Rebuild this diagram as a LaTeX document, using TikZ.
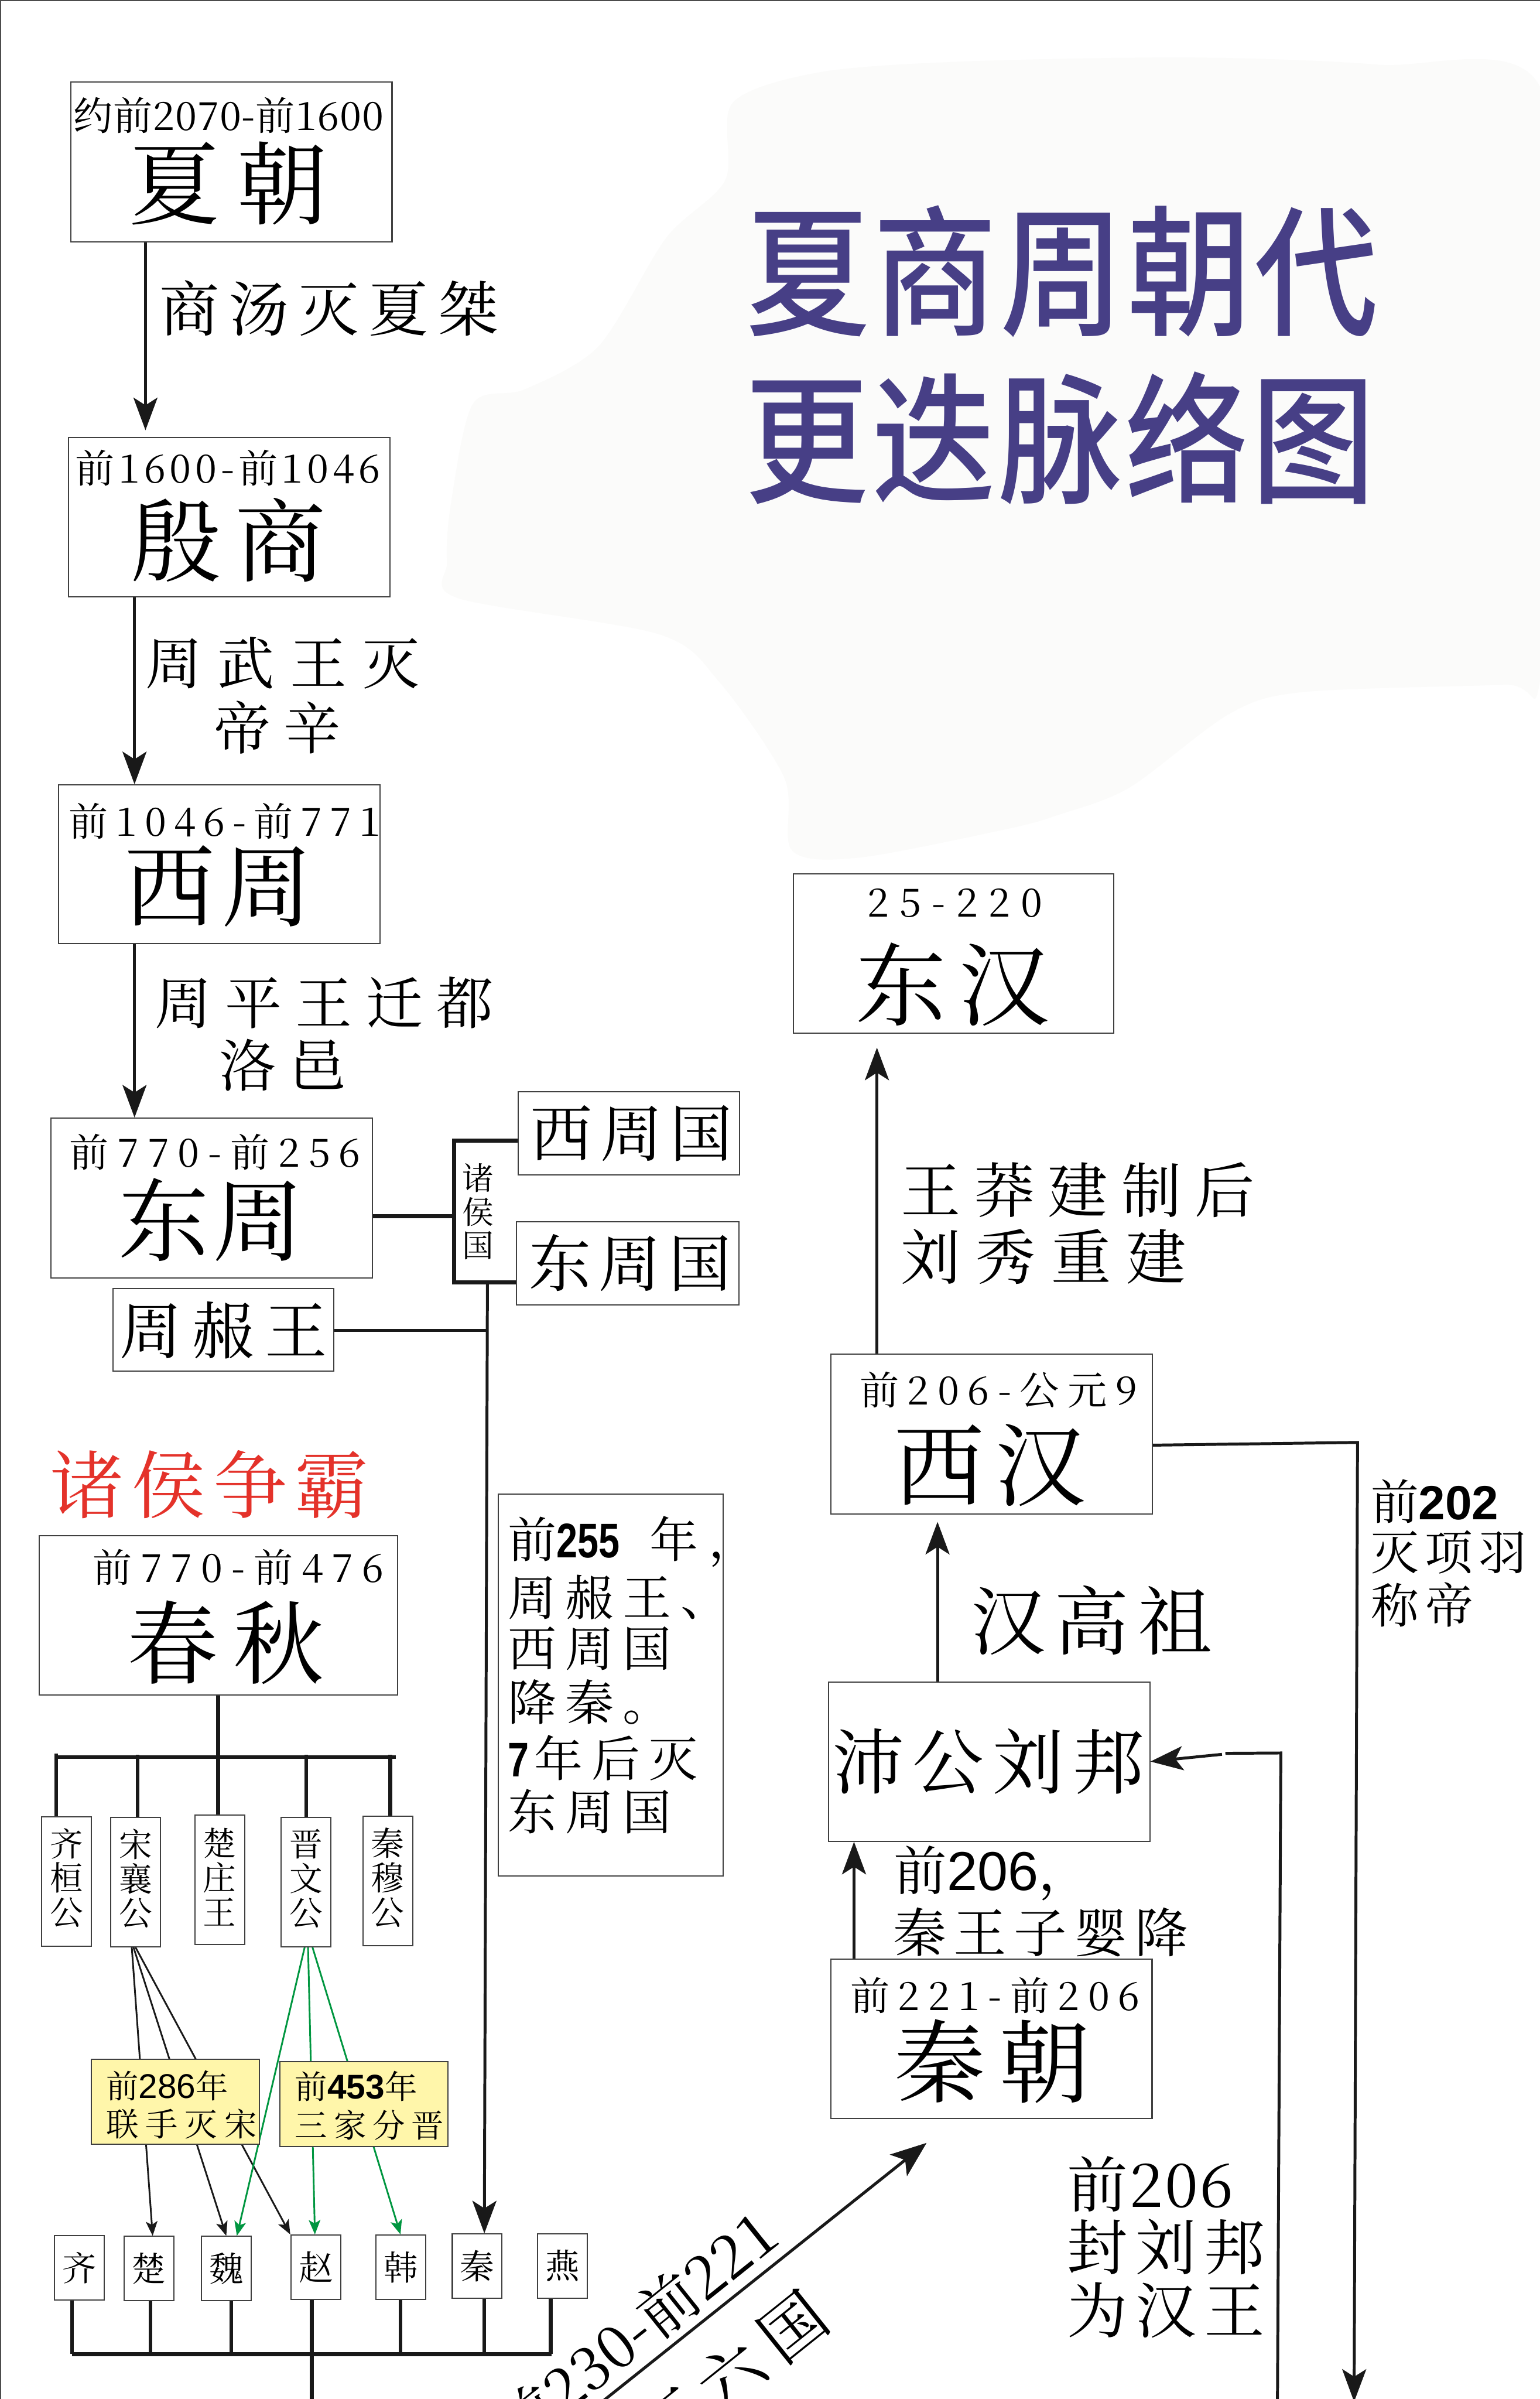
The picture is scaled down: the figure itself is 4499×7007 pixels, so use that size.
\documentclass[tikz,border=0pt]{standalone}
\usepackage{fontspec}
\usetikzlibrary{arrows.meta}
\IfFontExistsTF{Noto Serif CJK SC}{\newfontfamily\song{Noto Serif CJK SC}}{\newfontfamily\song{Noto Sans CJK SC}}
\IfFontExistsTF{Noto Sans CJK SC Medium}{\newfontfamily\titlef{Noto Sans CJK SC Medium}[FakeStretch=0.88]}{\newfontfamily\titlef{Noto Sans CJK SC Bold}[FakeStretch=0.88]}
\newfontfamily\nsans{Liberation Sans}[FakeStretch=0.78]
\newfontfamily\asans{Liberation Sans}
\definecolor{ttl}{RGB}{71,63,134}
\definecolor{zred}{RGB}{228,50,42}
\definecolor{ylw}{RGB}{255,246,170}
\definecolor{grn}{RGB}{0,150,64}
\definecolor{blobc}{RGB}{251,251,250}
\pgfdeclarelayer{back}
\pgfdeclarelayer{bg}
\pgfsetlayers{back,bg,main}
\def\sprloop#1{{#1}\sprnext}
\def\sprnext#1{\ifx\relax#1\else\hfill{#1}\expandafter\sprnext\fi}
\newcommand\spr[2]{\makebox[#1][s]{\sprloop#2\relax}}
\tikzset{
  box/.style={draw=black!75, line width=0.035cm, inner sep=0pt, fill=white},
  lbl/.style={inner sep=0pt, outer sep=0pt},
  fs/.style={font=\song\fontsize{#1}{#1}\selectfont},
  ln/.style={line width=0.085cm, black!90},
  thk/.style={line width=0.11cm, black!90},
  arr/.style={ln, -{Stealth[length=0.95cm,width=0.7cm,inset=0.22cm]}},
  sarr/.style={line width=0.05cm, black!90, -{Stealth[length=0.42cm,width=0.34cm,inset=0.1cm]}},
}
\begin{document}
\begin{tikzpicture}[x=0.01cm,y=-0.01cm]
\useasboundingbox (0,0) rectangle (4499,7007);
\begin{pgfonlayer}{back}
\fill[white] (0,0) rectangle (4499,7007);
\fill[blobc] plot[smooth cycle, tension=0.5] coordinates {(2141,300) (2401,210) (2834,179) (3485,168) (4027,189) (4499,253) (4540,1200) (4499,1990) (4395,2000) (3810,2021) (3593,2084) (3300,2300) (3095,2379) (2943,2421) (2509,2505) (2314,2484) (2292,2273) (2100,1990) (1924,1852) (1338,1747) (1306,1642) (1317,1474) (1382,1179) (1534,1137) (1750,1010) (1946,695) (2119,526)};
\draw[black!70, line width=0.03cm] (2,7007) -- (2,2) -- (4499,2);
\end{pgfonlayer}

% ---------- boxes ----------
\node[box, minimum width=9.38cm, minimum height=4.66cm] (xia) at (676,473) {};
\node[box, minimum width=9.38cm, minimum height=4.65cm] (shang) at (670,1510) {};
\node[box, minimum width=9.38cm, minimum height=4.63cm] (xizhou) at (641,2524) {};
\node[box, minimum width=9.38cm, minimum height=4.66cm] (dongzhou) at (618,3499) {};
\node[box, minimum width=6.45cm, minimum height=2.41cm] (nanwang) at (653,3884) {};
\node[box, minimum width=6.46cm, minimum height=2.43cm] (xzg) at (1837,3310) {};
\node[box, minimum width=6.49cm, minimum height=2.43cm] (dzg) at (1834,3690) {};
\node[box, minimum width=6.56cm, minimum height=11.14cm] (note) at (1784,4922) {};
\node[box, minimum width=10.47cm, minimum height=4.66cm] (chunqiu) at (638,4718) {};
\node[box, minimum width=1.45cm, minimum height=3.78cm] (qhg) at (194,5495) {};
\node[box, minimum width=1.45cm, minimum height=3.78cm] (sxg) at (396,5497) {};
\node[box, minimum width=1.45cm, minimum height=3.78cm] (czw) at (642,5490) {};
\node[box, minimum width=1.45cm, minimum height=3.78cm] (jwg) at (894,5497) {};
\node[box, minimum width=1.45cm, minimum height=3.78cm] (qmg) at (1133,5494) {};
\node[box, fill=ylw, minimum width=4.91cm, minimum height=2.49cm] (y286) at (512,6139) {};
\node[box, fill=ylw, minimum width=4.91cm, minimum height=2.48cm] (y453) at (1063,6146) {};
\node[box, minimum width=1.45cm, minimum height=1.88cm] (sqi) at (232,6624) {};
\node[box, minimum width=1.45cm, minimum height=1.88cm] (schu) at (435,6626) {};
\node[box, minimum width=1.45cm, minimum height=1.88cm] (swei) at (661,6626) {};
\node[box, minimum width=1.45cm, minimum height=1.88cm] (szhao) at (923,6622) {};
\node[box, minimum width=1.45cm, minimum height=1.88cm] (shan) at (1171,6622) {};
\node[box, minimum width=1.45cm, minimum height=1.88cm] (sqin) at (1394,6619) {};
\node[box, minimum width=1.45cm, minimum height=1.88cm] (syan) at (1643,6619) {};
\node[box, minimum width=9.35cm, minimum height=4.64cm] (donghan) at (2786,2785) {};
\node[box, minimum width=9.38cm, minimum height=4.66cm] (xihan) at (2897,4189) {};
\node[box, minimum width=9.38cm, minimum height=4.65cm] (peigong) at (2890,5145) {};
\node[box, minimum width=9.37cm, minimum height=4.64cm] (qin) at (2897,5955) {};

% ---------- left chain ----------
\draw[arr, shorten >=0.19cm] (xia.south -| 425,0) -- (shang.north -| 425,0);
\draw[arr] (shang.south -| 393,0) -- (xizhou.north -| 393,0);
\draw[arr] (xizhou.south -| 393,0) -- (dongzhou.north -| 393,0);

\coordinate (brA) at (1326,3332);
\coordinate (brB) at (1326,3746);
\coordinate (brM) at (1326,3553);
\coordinate (brD) at (1424,3746);
\coordinate (vN) at (1424,3885);
\draw[line width=0.12cm, black!90] (xzg.west |- brA) -- (brA) -- (brB) -- (dzg.west |- brB);
\draw[line width=0.12cm, black!90] (dongzhou.east |- brM) -- (brM);
\draw[ln] (nanwang.east |- vN) -- (vN);
\draw[arr] (brD) -- (sqin.north -| 1415,0);

% ---------- chunqiu tree ----------
\coordinate (cqbar) at (637,5132);
\draw[thk] (chunqiu.south -| cqbar) -- (cqbar);
\draw[thk] (164,0 |- cqbar) -- (1157,0 |- cqbar);
\draw[thk] (qhg.north -| 164,0) -- (164,5122);
\draw[thk] (sxg.north -| 402,0) -- (402,5126);
\draw[thk] (czw.north -| 637,0) -- (cqbar);
\draw[thk] (jwg.north -| 895,0) -- (895,5126);
\draw[thk] (qmg.north -| 1140,0) -- (1140,5126);

\begin{pgfonlayer}{bg}
\draw[sarr] (sxg.south -| 385,0) -- (schu.north -| 446,0);
\draw[sarr] (sxg.south -| 390,0) -- (swei.north -| 661,0);
\draw[sarr] (sxg.south -| 396,0) -- (szhao.north -| 848,0);
\draw[sarr, grn] (jwg.south -| 890,0) -- (swei.north -| 692,0);
\draw[sarr, grn] (jwg.south -| 900,0) -- (szhao.north -| 920,0);
\draw[sarr, grn] (jwg.south -| 913,0) -- (shan.north -| 1170,0);
\end{pgfonlayer}

% ---------- bottom bar ----------
\coordinate (bb) at (911,6876);
\draw[thk] (210,0 |- bb) -- (1611,0 |- bb);
\draw[thk] (sqi.south -| 210,0) -- (210,0 |- bb);
\draw[thk] (schu.south -| 440,0) -- (440,0 |- bb);
\draw[thk] (swei.south -| 676,0) -- (676,0 |- bb);
\draw[thk] (szhao.south -| 911,0) -- (911,7030);
\draw[thk] (shan.south -| 1170,0) -- (1170,0 |- bb);
\draw[thk] (sqin.south -| 1415,0) -- (1415,0 |- bb);
\draw[thk] (syan.south -| 1609,0) -- (1609,0 |- bb);

% ---------- diagonal ----------
\coordinate (dgS) at (1690,7070);
\draw[ln, -{Stealth[length=1.05cm,width=0.8cm,inset=0.25cm]}] (dgS) -- ([shift={(-190,70)}]qin.south);

% ---------- right chain ----------
\draw[arr, shorten >=0.41cm] (xihan.north -| 2562,0) -- (donghan.south -| 2562,0);
\draw[arr, shorten >=0.21cm] (peigong.north -| 2739,0) -- (xihan.south -| 2739,0);
\draw[arr] (qin.north -| 2495,0) -- (peigong.south -| 2495,0);
\coordinate (xhR) at (3966,4213);
\coordinate (xhB) at (3956,7015);
\draw[arr] (xihan.east |- 0,4221) -- (xhR) -- (xhB);
\coordinate (pgB) at (3732,7030);
\coordinate (pgT) at (3742,5120);
\coordinate (pgK) at (3580,5121);
\coordinate (pgA) at (3570,5124);
\draw[ln] (pgB) -- (pgT) -- (pgK);
\draw[arr] (pgA) -- (peigong.east);

% ---------- title ----------
\node[lbl, text=ttl, font=\titlef\fontsize{116.7pt}{116.7pt}\selectfont] (ttl1) at (3104,792) {\spr{18.45cm}{夏商周朝代}};
\node[lbl, text=ttl, font=\titlef\fontsize{116.7pt}{116.7pt}\selectfont] (ttl2) at (3098,1279) {\spr{18.4cm}{更迭脉络图}};

% ---------- date labels ----------
\node[lbl, fs=32.7pt] (d1) at (668,337) {\spr{9.05cm}{约前2070-前1600}};
\node[lbl, fs=32.7pt] (d2) at (665,1366) {\spr{8.9cm}{前1600-前1046}};
\node[lbl, fs=32.7pt] (d3) at (657,2399) {\spr{9.1cm}{前1046-前771}};
\node[lbl, fs=32.7pt] (d4) at (628,3364) {\spr{8.5cm}{前770-前256}};
\node[lbl, fs=32.7pt] (d5) at (696,4578) {\spr{8.5cm}{前770-前476}};
\node[lbl, fs=32.7pt] (d6) at (2790,2637) {\spr{5.1cm}{25-220}};
\node[lbl, fs=32.7pt] (d7) at (2917,4061) {\spr{8.1cm}{前206-公元9}};
\node[lbl, fs=32.7pt] (d8) at (2907,5828) {\spr{8.45cm}{前221-前206}};

% ---------- big names ----------
\node[lbl, fs=75.4pt] (n1) at (667,535) {\spr{5.8cm}{夏朝}};
\node[lbl, fs=75.4pt] (n2) at (667,1577) {\spr{5.7cm}{殷商}};
\node[lbl, fs=75.4pt] (n3) at (638,2588) {\spr{5.5cm}{西周}};
\node[lbl, fs=75.4pt] (n4) at (617,3563) {\spr{5.4cm}{东周}};
\node[lbl, fs=75.4pt] (n5) at (659,4798) {\spr{5.75cm}{春秋}};
\node[lbl, fs=75.4pt] (n6) at (2783,2875) {\spr{5.65cm}{东汉}};
\node[lbl, fs=75.4pt] (n7) at (2892,4280) {\spr{5.6cm}{西汉}};
\node[lbl, fs=75.4pt] (n8) at (2899,6020) {\spr{5.7cm}{秦朝}};

% ---------- left labels ----------
\node[lbl, fs=49.8pt] (l1) at (961,900) {\spr{9.9cm}{商汤灭夏桀}};
\node[lbl, fs=47.2pt] (l2a) at (825,1937) {\spr{8.0cm}{周武王灭}};
\node[lbl, fs=47.2pt] (l2b) at (810,2124) {\spr{3.7cm}{帝辛}};
\node[lbl, fs=47.2pt] (l3a) at (947,2928) {\spr{9.9cm}{周平王迁都}};
\node[lbl, fs=47.2pt] (l3b) at (825,3111) {\spr{3.7cm}{洛邑}};
\node[lbl, fs=51.8pt] (txzg) at (1845,3310) {\spr{5.9cm}{西周国}};
\node[lbl, fs=51.8pt] (tdzg) at (1841,3688) {\spr{5.9cm}{东周国}};
\node[lbl, font=\song\fontsize{26.2pt}{27.9pt}\selectfont, align=center] (tzhg) at (1396,3539) {诸\\侯\\国};
\node[lbl, fs=51.8pt] (tnw) at (653,3885) {\spr{6.05cm}{周赧王}};
\node[lbl, fs=61.5pt, text=zred] (tzb) at (612,4336) {\spr{9.3cm}{诸侯争霸}};

% note 255
\node[lbl, fs=40.4pt, anchor=west] (k1) at (1484,4503) {前{\nsans\bfseries 255}\hspace{0.87cm}年\hspace{0.3cm}，};
\node[lbl, fs=40.4pt, anchor=west] (k2) at (1484,4665) {\spr{6.46cm}{周赧王、}};
\node[lbl, fs=40.4pt, anchor=west] (k3) at (1484,4815) {\spr{4.78cm}{西周国}};
\node[lbl, fs=40.4pt, anchor=west] (k4) at (1484,4971) {\spr{4.78cm}{降秦。}};
\node[lbl, fs=40.4pt, anchor=west] (k5) at (1484,5134) {{\nsans\bfseries 7}\hspace{0.15cm}年\hspace{0.26cm}后\hspace{0.26cm}灭};
\node[lbl, fs=40.4pt, anchor=west] (k6) at (1484,5291) {\spr{4.78cm}{东周国}};

% lords
\node[lbl, font=\song\fontsize{27.6pt}{28.5pt}\selectfont, align=center] (tq1) at (194,5487) {齐\\桓\\公};
\node[lbl, font=\song\fontsize{27.6pt}{28.5pt}\selectfont, align=center] (tq2) at (396,5489) {宋\\襄\\公};
\node[lbl, font=\song\fontsize{27.6pt}{28.5pt}\selectfont, align=center] (tq3) at (642,5482) {楚\\庄\\王};
\node[lbl, font=\song\fontsize{27.6pt}{28.5pt}\selectfont, align=center] (tq4) at (894,5489) {晋\\文\\公};
\node[lbl, font=\song\fontsize{27.6pt}{28.5pt}\selectfont, align=center] (tq5) at (1133,5486) {秦\\穆\\公};

% yellow labels
\node[lbl, fs=27pt, anchor=west] (ya1) at (310,6092) {前{\asans\fontsize{28.5pt}{28.5pt}\selectfont 286}年};
\node[lbl, fs=27pt, anchor=west] (ya2) at (310,6204) {\spr{4.4cm}{联手灭宋}};
\node[lbl, fs=27pt, anchor=west] (yb1) at (862,6093) {前{\asans\bfseries\fontsize{28.5pt}{28.5pt}\selectfont 453}年};
\node[lbl, fs=27pt, anchor=west] (yb2) at (862,6207) {\spr{4.35cm}{三家分晋}};

% states
\node[lbl, fs=28.5pt] (tsq) at (sqi) {齐};
\node[lbl, fs=28.5pt] (tsc) at (schu) {楚};
\node[lbl, fs=28.5pt] (tsw) at (swei) {魏};
\node[lbl, fs=28.5pt] (tsz) at (szhao) {赵};
\node[lbl, fs=28.5pt] (tsh) at (shan) {韩};
\node[lbl, fs=28.5pt] (tsn) at (sqin) {秦};
\node[lbl, fs=28.5pt] (tsy) at (syan) {燕};

% rotated
\node[lbl, fs=49.8pt, rotate=38.66, anchor=base east] (rot1) at (2286,6547) {前230-前221};
\node[lbl, fs=54.1pt, rotate=38.66, anchor=east] (rot2) at (2391,6736) {灭\hspace{0.4cm}六\hspace{0.4cm}国};

% ---------- right labels ----------
\node[lbl, fs=49.8pt, anchor=west] (w1) at (2632,3475) {\spr{10.34cm}{王莽建制后}};
\node[lbl, fs=49.8pt, anchor=west] (w2) at (2632,3671) {\spr{8.33cm}{刘秀重建}};
\node[lbl, fs=39.8pt, anchor=west] (r1) at (4005,4385) {前{\asans\bfseries 202}};
\node[lbl, fs=39.8pt, anchor=west] (r2) at (4005,4535) {\spr{4.55cm}{灭项羽}};
\node[lbl, fs=39.8pt, anchor=west] (r3) at (4005,4687) {\spr{3.0cm}{称帝}};
\node[lbl, fs=62pt] (hgz) at (3190,4733) {\spr{7.05cm}{汉高祖}};
\node[lbl, fs=59.2pt] (tpg) at (2888,5149) {\spr{9.1cm}{沛公刘邦}};
\node[lbl, fs=44.1pt, anchor=west] (q1) at (2612,5472) {前{\asans\fontsize{45.5pt}{45.5pt}\selectfont 206}，};
\node[lbl, fs=44.1pt, anchor=west] (q2) at (2610,5646) {\spr{8.6cm}{秦王子婴降}};
\node[lbl, fs=50.4pt, anchor=west] (f1) at (3118,6380) {\spr{4.85cm}{前206}};
\node[lbl, fs=50.4pt, anchor=west] (f2) at (3118,6563) {\spr{5.77cm}{封刘邦}};
\node[lbl, fs=50.4pt, anchor=west] (f3) at (3118,6748) {\spr{5.77cm}{为汉王}};
\end{tikzpicture}
\end{document}
